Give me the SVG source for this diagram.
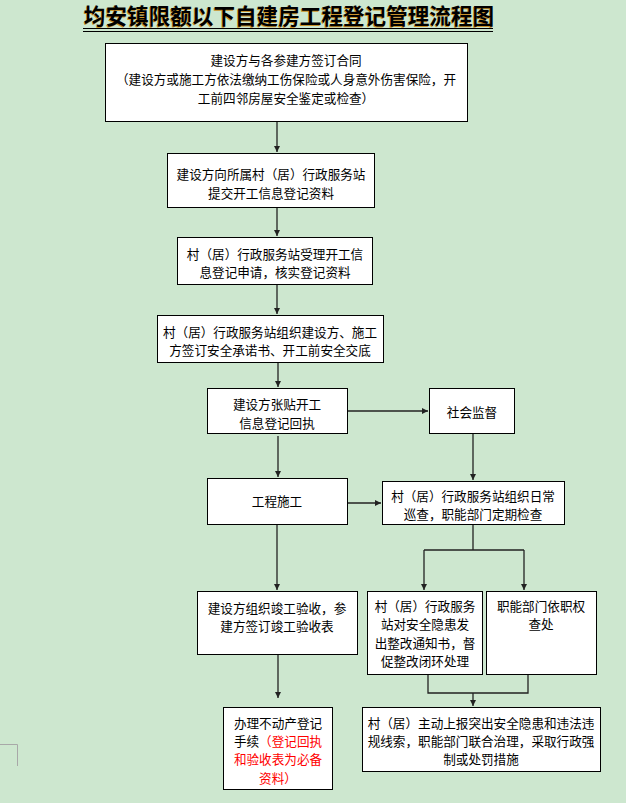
<svg xmlns="http://www.w3.org/2000/svg" width="626" height="803" viewBox="0 0 626 803">
<style>
.bg{fill:#CDE7CF}
.box{fill:#FFFFFF;stroke:#000000;stroke-width:1}
.t{font-family:"Noto Sans CJK SC","Liberation Sans",sans-serif;font-size:12.6px;fill:#000000;text-anchor:middle;dominant-baseline:central}
.red{fill:#FF0000}
.title{font-family:"Noto Sans CJK SC","Liberation Serif",serif;font-size:21.6px;font-weight:bold;fill:#000000;text-anchor:middle}
.c{fill:none;stroke:#222222;stroke-width:1.3}
.ca{fill:none;stroke:#222222;stroke-width:1.3;marker-end:url(#ah)}
</style>
<defs>
<marker id="ah" markerUnits="userSpaceOnUse" markerWidth="7" markerHeight="7" refX="6" refY="3" orient="auto">
<path d="M0,0 L6,3 L0,6 z" fill="#222222"/>
</marker>
</defs>
<rect class="bg" x="0" y="0" width="626" height="803"/>
<g id="title">
<text class="title" x="289" y="24" fill="#C8922A" style="fill:#C8922A" dx="-0.7" dy="0.5">均安镇限额以下自建房工程登记管理流程图</text>
<text class="title" x="289" y="24">均安镇限额以下自建房工程登记管理流程图</text>
<line x1="83" y1="28.5" x2="493" y2="28.5" stroke="#000" stroke-width="1"/>
<line x1="83" y1="31.5" x2="493" y2="31.5" stroke="#000" stroke-width="1"/>
</g>
<g id="connectors">
<path class="ca" d="M277,122 V152"/>
<path class="ca" d="M277,208 V236"/>
<path class="ca" d="M277,285 V314"/>
<path class="ca" d="M278,362 V387"/>
<path class="ca" d="M347,411 H428"/>
<path class="ca" d="M278,436 V477"/>
<path class="ca" d="M473,433 V480"/>
<path class="ca" d="M347,503 H381"/>
<path class="ca" d="M277,524 V590"/>
<path class="c" d="M473,524 V550 M424,550 H524"/>
<path class="ca" d="M424,550 V590"/>
<path class="ca" d="M524,550 V590"/>
<path class="ca" d="M278,654 V698"/>
<path class="c" d="M428,674 V693 H528 V674"/>
<path class="ca" d="M473,693 V706"/>
</g>
<g id="n1">
<rect class="box" x="105.5" y="43.5" width="362" height="78"/>
<text class="t" x="286" y="59">建设方与各参建方签订合同</text>
<text class="t" x="286" y="78">（建设方或施工方依法缴纳工伤保险或人身意外伤害保险，开</text>
<text class="t" x="286" y="97">工前四邻房屋安全鉴定或检查）</text>
</g>
<g id="n2">
<rect class="box" x="167.5" y="153.5" width="207" height="54"/>
<text class="t" x="271" y="173">建设方向所属村（居）行政服务站</text>
<text class="t" x="271" y="192">提交开工信息登记资料</text>
</g>
<g id="n3">
<rect class="box" x="177.5" y="237.5" width="195" height="47"/>
<text class="t" x="275" y="253">村（居）行政服务站受理开工信</text>
<text class="t" x="275" y="271">息登记申请，核实登记资料</text>
</g>
<g id="n4">
<rect class="box" x="157.5" y="315.5" width="226" height="47"/>
<text class="t" x="270" y="331">村（居）行政服务站组织建设方、施工</text>
<text class="t" x="270" y="349">方签订安全承诺书、开工前安全交底</text>
</g>
<g id="n5">
<rect class="box" x="207.5" y="388.5" width="140" height="45"/>
<text class="t" x="277" y="403">建设方张贴开工</text>
<text class="t" x="277" y="422">信息登记回执</text>
</g>
<g id="n6">
<rect class="box" x="429.5" y="388.5" width="85" height="45"/>
<text class="t" x="472" y="411">社会监督</text>
</g>
<g id="n7">
<rect class="box" x="207.5" y="478.5" width="140" height="46"/>
<text class="t" x="277" y="500">工程施工</text>
</g>
<g id="n8">
<rect class="box" x="382.5" y="481.5" width="182" height="43"/>
<text class="t" x="473" y="495">村（居）行政服务站组织日常</text>
<text class="t" x="473" y="513">巡查，职能部门定期检查</text>
</g>
<g id="n9">
<rect class="box" x="197.5" y="591.5" width="160" height="63"/>
<text class="t" x="277" y="607">建设方组织竣工验收，参</text>
<text class="t" x="277" y="625">建方签订竣工验收表</text>
</g>
<g id="n10">
<rect class="box" x="367.5" y="591.5" width="115" height="83"/>
<text class="t" x="425" y="605">村（居）行政服务</text>
<text class="t" x="425" y="623">站对安全隐患发</text>
<text class="t" x="425" y="642">出整改通知书，督</text>
<text class="t" x="425" y="660">促整改闭环处理</text>
</g>
<g id="n11">
<rect class="box" x="486.5" y="591.5" width="110" height="83"/>
<text class="t" x="541" y="605">职能部门依职权</text>
<text class="t" x="541" y="623">查处</text>
</g>
<g id="n12">
<rect class="box" x="223.5" y="707.5" width="109" height="82"/>
<text class="t" x="278" y="722">办理不动产登记</text>
<text class="t" x="278" y="740">手续<tspan class="red">（登记回执</tspan></text>
<text class="t red" x="278" y="758">和验收表为必备</text>
<text class="t red" x="278" y="777">资料）</text>
</g>
<g id="n13">
<rect class="box" x="362.5" y="707.5" width="238" height="64"/>
<text class="t" x="481" y="722">村（居）主动上报突出安全隐患和违法违</text>
<text class="t" x="481" y="740">规线索，职能部门联合治理，采取行政强</text>
<text class="t" x="481" y="758">制或处罚措施</text>
</g>
<path d="M0,744.5 H17.5 V766" fill="none" stroke="#A8A8A8" stroke-width="1"/>
</svg>
